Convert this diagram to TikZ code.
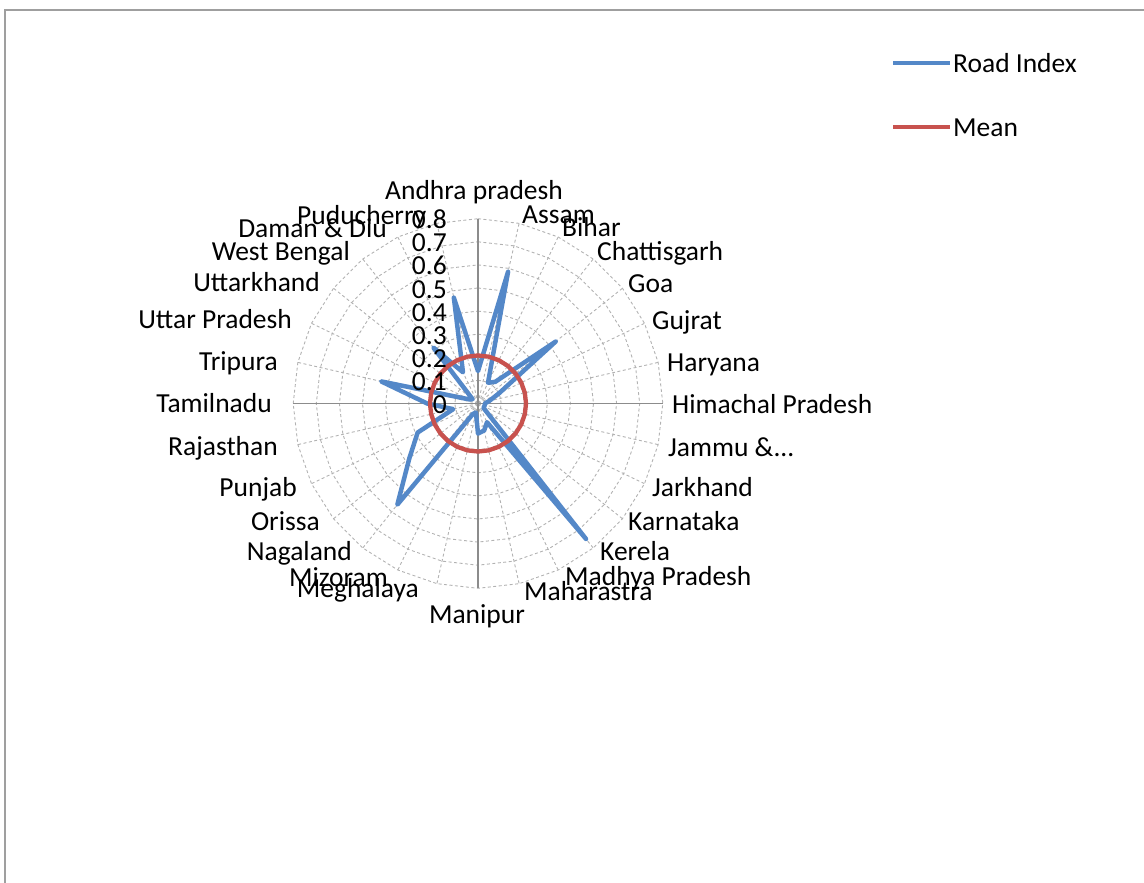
\documentclass[tikz,border=0pt]{standalone}
\usepackage{fontspec}
\setmainfont{Carlito}
\definecolor{roadblue}{RGB}{84,136,200}
\definecolor{meanred}{RGB}{200,82,78}
\begin{document}
\begin{tikzpicture}[x=1pt,y=-1pt,
  font=\fontsize{27.5}{31}\selectfont,
  lbl/.style={inner sep=0pt, text height=0.7em, text depth=0.2em, yshift=-6.5pt},
  gridline/.style={draw=gray!60, line width=0.9pt, dash pattern=on 3pt off 2.5pt},
  mainaxis/.style={draw=gray!90, line width=1.1pt},
  roadline/.style={draw=roadblue, line width=4.5pt, line join=round},
  meanline/.style={draw=meanred, line width=4.3pt, line join=round},
  framestyle/.style={draw=gray!75, line width=1.3pt}]
\useasboundingbox (0,0) rectangle (1144,883);
\coordinate (c) at (478,403.5);
% frame
\coordinate (f1) at (5,883);
\coordinate (f2) at (5,10);
\coordinate (f3) at (1144,10);
\draw[framestyle] (f1) -- (f2) -- (f3);
% rings
\foreach \r in {1,...,8}{
  \draw[gridline] (478,{403.5-23.1*\r})
    \foreach \k in {1,...,27}{ -- ({478+23.1*\r*sin(\k*360/28)},{403.5-23.1*\r*cos(\k*360/28)}) } -- cycle;
}
% spokes
\foreach \k in {0,...,27}{
  \coordinate (s\k) at ({478+184.8*sin(\k*360/28)},{403.5-184.8*cos(\k*360/28)});
  \draw[gridline] (c) -- (s\k);
}
\draw[mainaxis] (s0) -- (s14);
\draw[mainaxis] (s7) -- (s21);
% data
\foreach \v [count=\i from 0] in {0.14,0.585,0.10,0.12,0.43,0.10,0.05,0.03,0.03,0.03,0.03,0.75,0.09,0.12,0.13,0.04,0.05,0.56,0.38,0.29,0.11,0.22,0.43,0.04,0.03,0.31,0.15,0.47}{
  \coordinate (d\i) at ({478+231*\v*sin(\i*360/28)},{403.5-231*\v*cos(\i*360/28)});
  \coordinate (m\i) at ({478+231*0.208*sin(\i*360/28)},{403.5-231*0.208*cos(\i*360/28)});
}
\draw[roadline] (d0) \foreach \i in {1,...,27}{ -- (d\i)} -- cycle;
\draw[meanline] (m0) \foreach \i in {1,...,27}{ -- (m\i)} -- cycle;
% value labels
\foreach \t [count=\k from 0] in {0,0.1,0.2,0.3,0.4,0.5,0.6,0.7,0.8}{
  \node[lbl, anchor=east] (t\k) at (447,{404.5-23.1*\k}) {\t};
}
% category labels
\node[lbl] (l0) at (474,190) {Andhra pradesh};
\node[lbl, anchor=west] (l1) at (522,214) {Assam};
\node[lbl, anchor=west] (l2) at (562,227) {Bihar};
\node[lbl, anchor=west] (l3) at (597,251) {Chattisgarh};
\node[lbl, anchor=west] (l4) at (628,283) {Goa};
\node[lbl, anchor=west] (l5) at (652,320) {Gujrat};
\node[lbl, anchor=west] (l6) at (667,362) {Haryana};
\node[lbl, anchor=west] (l7) at (672,404) {Himachal Pradesh};
\node[lbl, anchor=west] (l8) at (668,447) {Jammu \&...};
\node[lbl, anchor=west] (l9) at (652,487) {Jarkhand};
\node[lbl, anchor=west] (l10) at (628,521) {Karnataka};
\node[lbl, anchor=west] (l11) at (600,551) {Kerela};
\node[lbl, anchor=west] (l12) at (565,576) {Madhya Pradesh};
\node[lbl, anchor=west] (l13) at (524,591) {Maharastra};
\node[lbl] (l14) at (477,614) {Manipur};
\node[lbl, anchor=east] (l15) at (419,588) {Meghalaya};
\node[lbl, anchor=east] (l16) at (388,577) {Mizoram};
\node[lbl, anchor=east] (l17) at (352,551) {Nagaland};
\node[lbl, anchor=east] (l18) at (320,521) {Orissa};
\node[lbl, anchor=east] (l19) at (297,487) {Punjab};
\node[lbl, anchor=east] (l20) at (278,446) {Rajasthan};
\node[lbl, anchor=east] (l21) at (272,403) {Tamilnadu};
\node[lbl, anchor=east] (l22) at (278,361) {Tripura};
\node[lbl, anchor=east] (l23) at (292,319) {Uttar Pradesh};
\node[lbl, anchor=east] (l24) at (320,282) {Uttarkhand};
\node[lbl, anchor=east] (l25) at (350,251) {West Bengal};
\node[lbl, anchor=east] (l26) at (387,228) {Daman \& Diu};
\node[lbl, anchor=west] (l27) at (297,215) {Puducherry};
% legend
\coordinate (la1) at (893,63);
\coordinate (la2) at (950,63);
\coordinate (lb1) at (893,127);
\coordinate (lb2) at (950,127);
\draw[draw=roadblue, line width=4pt] (la1) -- (la2);
\draw[draw=meanred, line width=4pt] (lb1) -- (lb2);
\node[lbl, anchor=west] (leg1) at (953,64) {Road Index};
\node[lbl, anchor=west] (leg2) at (953,127) {Mean};
\end{tikzpicture}
\end{document}
